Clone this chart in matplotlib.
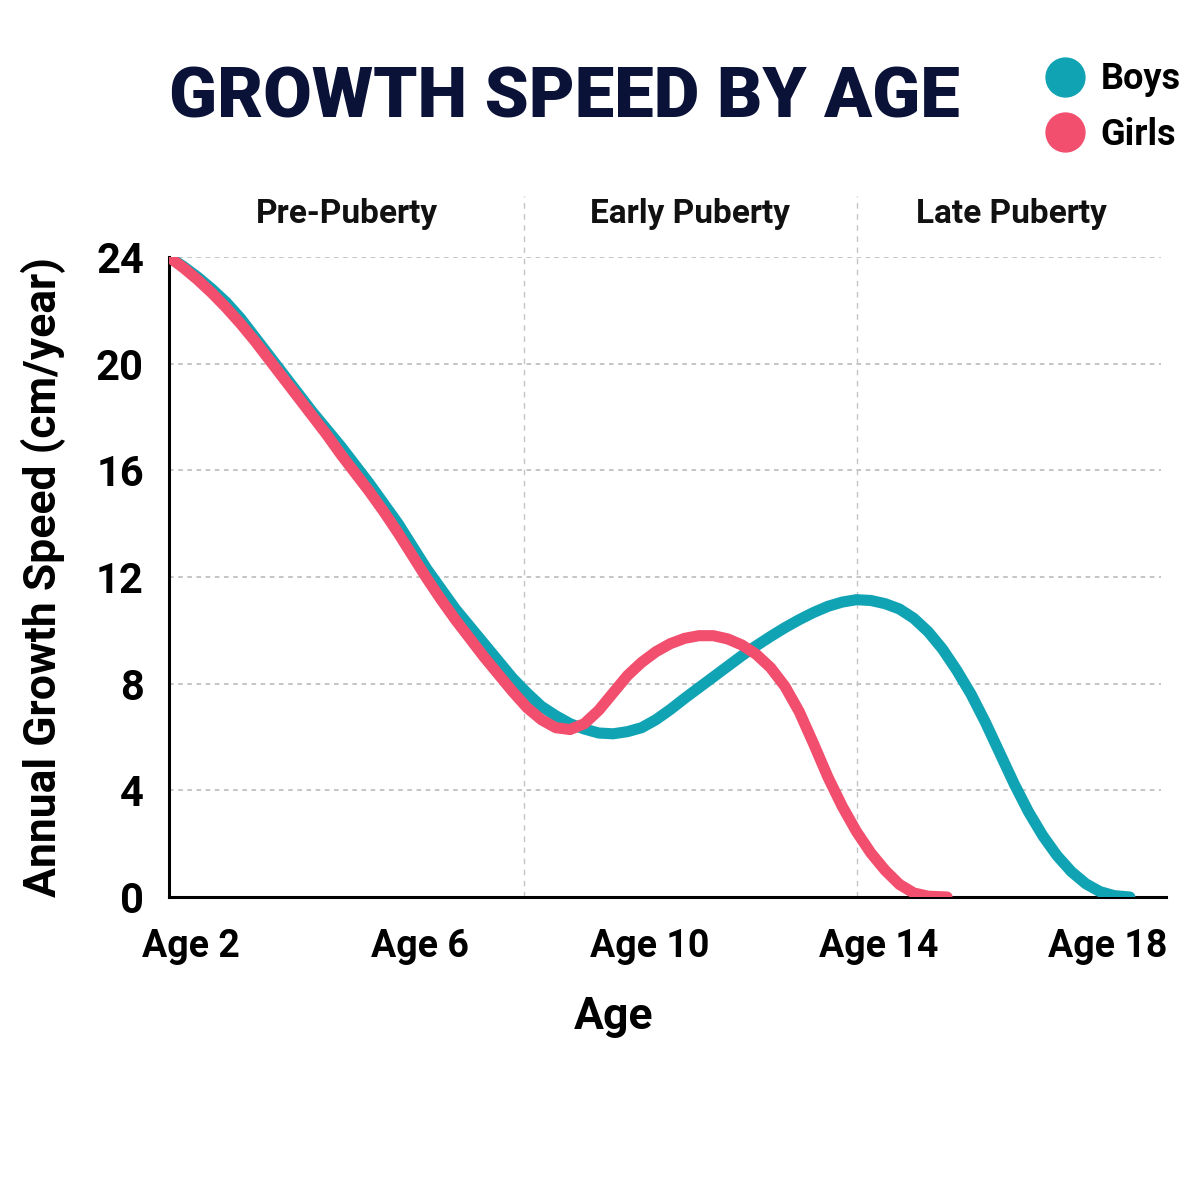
import matplotlib
matplotlib.use("Agg")
import matplotlib.pyplot as plt
import matplotlib.transforms as mtransforms
from matplotlib.lines import Line2D

plt.rcParams['font.family'] = ['Roboto', 'DejaVu Sans']
plt.rcParams['font.weight'] = 'bold'

# Data (age in years, growth speed in cm/year)
boys_age = [2.0, 2.25, 2.5, 2.75, 3.0, 3.25, 3.5, 3.75, 4.0, 4.25, 4.5, 4.75, 5.0, 5.25, 5.5,
            5.75, 6.0, 6.25, 6.5, 6.75, 7.0, 7.25, 7.5, 7.75, 8.0, 8.25, 8.5, 8.75, 9.0, 9.25,
            9.5, 9.75, 10.0, 10.25, 10.5, 10.75, 11.0, 11.25, 11.5, 11.75, 12.0, 12.25, 12.5,
            12.75, 13.0, 13.25, 13.5, 13.75, 14.0, 14.25, 14.5, 14.75, 15.0, 15.25, 15.5,
            15.75, 16.0, 16.25, 16.5, 16.75, 17.0, 17.25, 17.5, 17.75, 18.0, 18.25, 18.5, 18.77]
boys_speed = [24.0, 23.65, 23.25, 22.8, 22.3, 21.7, 21.0, 20.3, 19.6, 18.9, 18.2, 17.55,
              16.9, 16.2, 15.5, 14.75, 14.0, 13.15, 12.3, 11.55, 10.8, 10.15, 9.5, 8.85, 8.2,
              7.65, 7.15, 6.8, 6.5, 6.3, 6.15, 6.12, 6.2, 6.35, 6.65, 7.03, 7.45, 7.85, 8.25,
              8.65, 9.05, 9.42, 9.77, 10.1, 10.4, 10.67, 10.9, 11.06, 11.15, 11.12, 11.0, 10.8,
              10.45, 9.95, 9.3, 8.5, 7.6, 6.55, 5.4, 4.25, 3.2, 2.3, 1.55, 0.95, 0.5, 0.2, 0.05,
              0.0]

girls_age = [2.0, 2.25, 2.5, 2.75, 3.0, 3.25, 3.5, 3.75, 4.0, 4.25, 4.5, 4.75, 5.0, 5.25, 5.5,
             5.75, 6.0, 6.25, 6.5, 6.75, 7.0, 7.25, 7.5, 7.75, 8.0, 8.25, 8.5, 8.75, 9.0, 9.25,
             9.5, 9.75, 10.0, 10.25, 10.5, 10.75, 11.0, 11.25, 11.5, 11.75, 12.0, 12.25, 12.5,
             12.75, 13.0, 13.25, 13.5, 13.75, 14.0, 14.25, 14.5, 14.75, 15.0, 15.25, 15.58]
girls_speed = [24.0, 23.6, 23.15, 22.65, 22.1, 21.5, 20.85, 20.15, 19.45, 18.75, 18.05, 17.35,
               16.6, 15.9, 15.2, 14.45, 13.65, 12.8, 11.95, 11.15, 10.4, 9.7, 9.0, 8.35, 7.7,
               7.1, 6.65, 6.35, 6.28, 6.5, 7.0, 7.65, 8.3, 8.8, 9.2, 9.5, 9.7, 9.8, 9.8, 9.68,
               9.45, 9.1, 8.6, 7.9, 6.95, 5.75, 4.5, 3.4, 2.45, 1.65, 1.0, 0.47, 0.15, 0.03, 0.0]

tick_ages = [2, 6, 10, 14, 18]
tick_labels = ['Age 2', 'Age 6', 'Age 10', 'Age 14', 'Age 18']
y_ticks = [0, 4, 8, 12, 16, 20, 24]

stage_names = ['Pre-Puberty', 'Early Puberty', 'Late Puberty']
stage_bounds = [2.0, 8.2, 14.0, 19.4]

boys_color = '#10A3B3'
girls_color = '#F24E6E'
title_color = '#0B1238'

fig = plt.figure(figsize=(12, 12), dpi=100)
ax = fig.add_axes([0.1408, 0.2525, 0.8308, 0.5333])

ax.plot(boys_age, boys_speed, color=boys_color, lw=8, solid_capstyle='round',
        solid_joinstyle='round', zorder=3)
ax.plot(girls_age, girls_speed, color=girls_color, lw=8, solid_capstyle='round',
        solid_joinstyle='round', zorder=4)

ax.set_xlim(stage_bounds[0], stage_bounds[-1])
ax.set_ylim(0, 24)

# horizontal dashed grid
for v in y_ticks[1:]:
    ax.axhline(v, color='#b5b5b5', lw=1.1, ls=(0, (3, 3)), zorder=1, xmax=0.995)

# stage separators, extending above the plot
for b in stage_bounds[1:-1]:
    ax.plot([b, b], [0, 26.3], color='#c4c4c4', lw=1.0, ls=(0, (4, 4)), clip_on=False, zorder=1)

for i, name in enumerate(stage_names):
    mid = (stage_bounds[i] + stage_bounds[i + 1]) / 2
    ax.text(mid, 25.6, name, ha='center', va='center', fontsize=24, fontweight='bold',
            color='#111111')

for side in ['top', 'right']:
    ax.spines[side].set_visible(False)
ax.spines['left'].set_linewidth(2.2)
ax.spines['bottom'].set_linewidth(2.2)

ax.set_yticks(y_ticks)
ax.set_yticklabels([str(v) for v in y_ticks], fontsize=30, fontweight='bold')
ax.set_xticks(tick_ages)
ax.set_xticklabels(tick_labels, fontsize=27, fontweight='bold')
ax.tick_params(axis='both', length=0)
ax.tick_params(axis='y', pad=18)
ax.tick_params(axis='x', pad=22)

shift = mtransforms.ScaledTranslation(0.22, 0, fig.dpi_scale_trans)
for lab in ax.get_xticklabels():
    lab.set_transform(lab.get_transform() + shift)

ax.set_ylabel('Annual Growth Speed (cm/year)', fontsize=32, fontweight='bold')
ax.yaxis.set_label_coords(-0.103, 0.5)
ax.set_xlabel('Age', fontsize=32, fontweight='bold')
ax.xaxis.set_label_coords(0.446, -0.155)

title = fig.text(0.47, 0.918, 'GROWTH SPEED BY AGE', ha='center', va='center', fontsize=60,
                 fontweight='heavy', color=title_color)
# fit the title to the width it takes in the reference (~790 px)
fig.canvas.draw()
w = title.get_window_extent().width
title.set_fontsize(60 * 790 / w)

handles = [Line2D([], [], marker='o', ls='', markersize=28, color=boys_color),
           Line2D([], [], marker='o', ls='', markersize=28, color=girls_color)]
fig.legend(handles, ['Boys', 'Girls'], loc='upper right', bbox_to_anchor=(0.996, 0.961),
           frameon=False, fontsize=26, handletextpad=0.0, labelspacing=0.55, borderaxespad=0)

fig.savefig('out.png', dpi=100, facecolor='white')
